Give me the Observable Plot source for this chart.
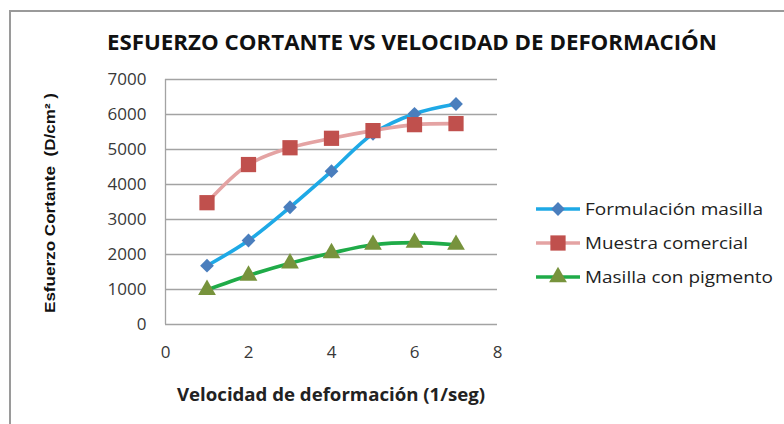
<!DOCTYPE html>
<html>
<head>
<meta charset="utf-8">
<script src="https://cdn.jsdelivr.net/npm/d3@7"></script>
<script src="https://cdn.jsdelivr.net/npm/@observablehq/plot@0.6"></script>
<style>
  html, body { margin: 0; padding: 0; background: #fff; }
  #chart { position: relative; width: 784px; height: 424px; overflow: hidden; }
</style>
</head>
<body>
<div id="chart"></div>
<script>
const title = "ESFUERZO CORTANTE VS VELOCIDAD DE DEFORMACIÓN";
const xLabel = "Velocidad de deformación (1/seg)";
const yLabel = "Esfuerzo Cortante  (D/cm² )";
const velocidad = [1, 2, 3, 4, 5, 6, 7];
const formulacion = [1680, 2400, 3350, 4380, 5450, 6020, 6300];
const muestra = [3480, 4570, 5050, 5320, 5540, 5710, 5740];
const pigmento = [990, 1400, 1750, 2040, 2280, 2340, 2280];
const seriesNames = ["Formulación masilla", "Muestra comercial", "Masilla con pigmento"];
const xTicks = [0, 2, 4, 6, 8];
const yTicks = [0, 1000, 2000, 3000, 4000, 5000, 6000, 7000];

const styles = [
  {line: "#1ea9e6", fill: "#4a7ebd", symbol: "diamond2", r: 6.2},
  {line: "#e4a3a3", fill: "#c0504d", symbol: "square", r: 8.6},
  {line: "#1fab48", fill: "#77933c", symbol: "triangle", r: 6.6}
];
const values = [formulacion, muestra, pigmento];
const data = values.flatMap((vals, i) => vals.map((v, j) => ({serie: seriesNames[i], idx: i, x: velocidad[j], y: v})));

const font = "'Open Sans', sans-serif";
const marks = [
  Plot.gridY(yTicks, {stroke: "#a3a3a3", strokeOpacity: 1, strokeWidth: 1.3}),
  Plot.ruleX([0], {stroke: "#a3a3a3", strokeWidth: 1.3}),
  Plot.axisY(yTicks, {tickSize: 0, tickPadding: 19, fontSize: 17, fill: "#383838", label: null, tickFormat: d => String(d)}),
  Plot.axisX(xTicks, {tickSize: 0, tickPadding: 21, fontSize: 17, fill: "#383838", label: null})
];
styles.forEach((s, i) => {
  const d = data.filter(p => p.idx === i);
  marks.push(Plot.line(d, {x: "x", y: "y", stroke: s.line, strokeWidth: 3.6, curve: "catmull-rom"}));
});
styles.forEach((s, i) => {
  const d = data.filter(p => p.idx === i);
  marks.push(Plot.dot(d, {x: "x", y: "y", symbol: s.symbol, r: s.r, fill: s.fill, stroke: "none"}));
});

const svg = Plot.plot({
  width: 784, height: 424,
  marginLeft: 165, marginRight: 287, marginTop: 79, marginBottom: 100,
  x: {domain: [0, 8]},
  y: {domain: [0, 7000]},
  style: {fontFamily: font, background: "transparent", overflow: "visible"},
  marks
});
document.getElementById("chart").appendChild(svg);

const root = d3.select(svg);
// outer chart border
root.insert("path", ":first-child")
  .attr("d", "M10,440 V11 H800")
  .attr("fill", "none").attr("stroke", "#9a9a9a").attr("stroke-width", 2);
// title
root.append("text")
  .attr("x", 412).attr("y", 50).attr("text-anchor", "middle")
  .attr("font-family", font).attr("font-weight", "bold").attr("font-size", 20.5)
  .attr("fill", "#111")
  .attr("textLength", 610).attr("lengthAdjust", "spacingAndGlyphs")
  .text(title);
// x axis label
root.append("text")
  .attr("x", 331).attr("y", 401).attr("text-anchor", "middle")
  .attr("font-family", font).attr("font-weight", "bold").attr("font-size", 17.5)
  .attr("fill", "#222")
  .attr("textLength", 308).attr("lengthAdjust", "spacingAndGlyphs")
  .text(xLabel);
// y axis label
root.append("text")
  .attr("transform", "translate(55,203) rotate(-90)").attr("text-anchor", "middle")
  .attr("font-family", "'Liberation Sans', Arial, sans-serif").attr("font-weight", "bold").attr("font-size", 14)
  .attr("fill", "#111")
  .attr("textLength", 220).attr("lengthAdjust", "spacingAndGlyphs")
  .text(yLabel);
// legend
const legY = [209, 243, 277];
const legW = [178, 163, 188];
const sym = {diamond2: d3.symbolDiamond2, square: d3.symbolSquare, triangle: d3.symbolTriangle};
styles.forEach((s, i) => {
  const g = root.append("g").attr("transform", `translate(0,${legY[i]})`);
  g.append("line").attr("x1", 536).attr("x2", 580).attr("y1", 0).attr("y2", 0)
    .attr("stroke", s.line).attr("stroke-width", 3.6);
  g.append("path").attr("transform", "translate(558,0)")
    .attr("d", d3.symbol(sym[s.symbol], Math.PI * s.r * s.r)())
    .attr("fill", s.fill);
  g.append("text").attr("x", 585).attr("y", 0).attr("dy", "0.35em")
    .attr("text-anchor", "start")
    .attr("font-family", font).attr("font-size", 16).attr("fill", "#222")
    .attr("textLength", legW[i]).attr("lengthAdjust", "spacingAndGlyphs")
    .text(seriesNames[i]);
});
</script>
</body>
</html>
